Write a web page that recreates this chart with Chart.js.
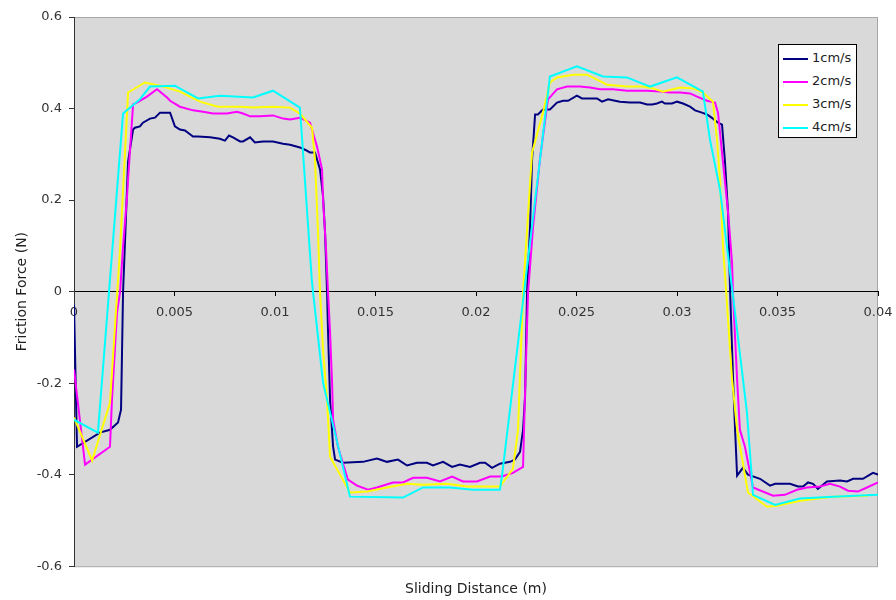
<!DOCTYPE html>
<html>
<head>
<meta charset="utf-8">
<script src="https://cdn.jsdelivr.net/npm/chart.js@4.4.1/dist/chart.umd.min.js"></script>
<style>
  html, body { margin: 0; padding: 0; background: #fff; }
  #wrap { position: relative; width: 896px; height: 600px; }
  #legend { position: absolute; left: 778px; top: 44px; width: 77px; height: 92px;
            border: 1px solid #000; background: #fff; font: 13px 'DejaVu Sans', sans-serif; color: #222; }
  #legend .item { position: absolute; left: 4px; height: 16px; line-height: 16px; white-space: nowrap; }
  #legend .sw { display: inline-block; width: 25px; height: 2px; vertical-align: middle; margin-right: 4px; }
</style>
</head>
<body>
<div id="wrap">
  <canvas id="chart" width="896" height="600"></canvas>
  <div id="legend"></div>
</div>
<script>
// ===== Datos =====
const seriesNames = ['1cm/s', '2cm/s', '3cm/s', '4cm/s'];
const seriesColors = ['#000080', '#ff00ff', '#ffff00', '#00ffff'];

const x1 = [0,0.00015,0.00129,0.00179,0.00219,0.00234,0.00244,0.00269,0.00294,0.00303,0.00328,0.00343,0.00378,0.00403,0.00428,0.00463,0.00478,0.00502,0.00527,0.00552,0.00592,0.00617,0.00677,0.00726,0.00751,0.00771,0.00791,0.00826,0.00841,0.00876,0.009,0.0094,0.0099,0.0104,0.01075,0.01124,0.01149,0.01174,0.01199,0.01224,0.01239,0.01249,0.01259,0.01264,0.01274,0.01289,0.01299,0.01338,0.01438,0.01507,0.01522,0.01557,0.01612,0.01657,0.01706,0.01756,0.01786,0.01836,0.01881,0.0192,0.0197,0.0202,0.02045,0.0208,0.02119,0.02169,0.02194,0.02219,0.02234,0.02244,0.02254,0.02269,0.02279,0.02294,0.02308,0.02333,0.02368,0.02403,0.02433,0.02458,0.02502,0.02527,0.02602,0.02627,0.02657,0.02692,0.02716,0.02766,0.02816,0.02851,0.02876,0.029,0.02925,0.0294,0.02975,0.03,0.0303,0.03065,0.0309,0.03124,0.03149,0.03179,0.03204,0.03224,0.03239,0.03254,0.03264,0.03279,0.03289,0.03299,0.03328,0.03353,0.03413,0.03463,0.03488,0.03562,0.03602,0.03627,0.03652,0.03677,0.03701,0.03726,0.03746,0.03811,0.03846,0.03876,0.03925,0.0396,0.03975,0.04];
const y1 = [-0.028,-0.339,-0.308,-0.302,-0.286,-0.258,-0.002,0.284,0.354,0.358,0.361,0.369,0.378,0.380,0.391,0.391,0.391,0.361,0.354,0.352,0.339,0.339,0.337,0.334,0.330,0.341,0.337,0.328,0.328,0.337,0.326,0.328,0.328,0.323,0.321,0.315,0.310,0.304,0.304,0.267,0.208,0.129,-0.002,-0.090,-0.236,-0.339,-0.367,-0.374,-0.372,-0.365,-0.367,-0.372,-0.367,-0.380,-0.374,-0.374,-0.380,-0.372,-0.383,-0.378,-0.383,-0.374,-0.374,-0.385,-0.376,-0.372,-0.367,-0.350,-0.302,-0.230,-0.002,0.142,0.289,0.387,0.387,0.398,0.398,0.413,0.417,0.417,0.428,0.422,0.422,0.415,0.420,0.417,0.415,0.413,0.413,0.409,0.409,0.411,0.415,0.411,0.411,0.415,0.411,0.404,0.396,0.391,0.387,0.378,0.369,0.365,0.282,0.173,0.004,-0.192,-0.302,-0.402,-0.385,-0.400,-0.409,-0.424,-0.420,-0.420,-0.426,-0.426,-0.417,-0.420,-0.431,-0.422,-0.415,-0.413,-0.415,-0.409,-0.409,-0.400,-0.396,-0.400];

const x2 = [0,0.00055,0.00179,0.00189,0.00214,0.00229,0.00244,0.00264,0.00269,0.00294,0.00313,0.00363,0.00413,0.00463,0.00478,0.00527,0.00592,0.00642,0.00692,0.00761,0.00811,0.00841,0.00876,0.00925,0.0099,0.0104,0.01075,0.01124,0.01174,0.01209,0.01234,0.01239,0.01254,0.01264,0.01274,0.01284,0.01289,0.01313,0.01363,0.01408,0.01463,0.01507,0.01587,0.01637,0.01687,0.01756,0.01821,0.01881,0.01935,0.02005,0.0207,0.02129,0.02184,0.02234,0.02244,0.02259,0.02284,0.02318,0.02358,0.02403,0.02453,0.02517,0.02567,0.02617,0.02682,0.02751,0.02851,0.02915,0.02965,0.03015,0.03065,0.031,0.03149,0.03189,0.03204,0.03229,0.03254,0.03274,0.03279,0.03299,0.03313,0.03338,0.03378,0.03478,0.03537,0.03597,0.03647,0.03711,0.03761,0.03811,0.03851,0.039,0.03945,0.04];
const y2 = [-0.170,-0.378,-0.339,-0.236,-0.046,-0.002,0.098,0.208,0.245,0.409,0.413,0.426,0.442,0.424,0.417,0.404,0.396,0.393,0.389,0.389,0.393,0.389,0.383,0.383,0.385,0.378,0.376,0.380,0.369,0.317,0.267,0.201,0.092,-0.002,-0.090,-0.199,-0.280,-0.339,-0.411,-0.424,-0.433,-0.428,-0.417,-0.417,-0.407,-0.407,-0.415,-0.404,-0.415,-0.415,-0.404,-0.404,-0.396,-0.383,-0.221,-0.002,0.142,0.289,0.420,0.442,0.448,0.448,0.446,0.442,0.442,0.439,0.439,0.437,0.435,0.435,0.433,0.426,0.417,0.413,0.391,0.282,0.173,0.063,-0.011,-0.192,-0.302,-0.339,-0.428,-0.446,-0.444,-0.433,-0.428,-0.426,-0.420,-0.426,-0.435,-0.437,-0.428,-0.417];

const x3 = [0,0.0009,0.00179,0.00229,0.00269,0.00353,0.00428,0.00527,0.00627,0.00716,0.00826,0.00891,0.0099,0.01075,0.01124,0.01184,0.01199,0.01214,0.01224,0.01239,0.01259,0.01274,0.01373,0.01458,0.01557,0.01657,0.01736,0.01856,0.01955,0.0202,0.02119,0.02184,0.02209,0.02234,0.02279,0.02333,0.02368,0.02403,0.02483,0.02552,0.02602,0.02652,0.02751,0.02831,0.02881,0.0293,0.03015,0.0308,0.03129,0.03179,0.03199,0.03214,0.03229,0.03244,0.03274,0.03299,0.03353,0.03448,0.03498,0.03612,0.03776,0.0395];
const y3 = [-0.275,-0.369,-0.243,0.092,0.435,0.457,0.450,0.437,0.415,0.404,0.404,0.402,0.404,0.402,0.389,0.358,0.289,0.129,-0.002,-0.127,-0.236,-0.361,-0.439,-0.437,-0.428,-0.420,-0.422,-0.420,-0.426,-0.426,-0.426,-0.387,-0.302,-0.002,0.304,0.391,0.457,0.468,0.474,0.474,0.463,0.452,0.448,0.448,0.444,0.437,0.446,0.444,0.435,0.415,0.332,0.245,0.098,0.004,-0.192,-0.302,-0.439,-0.470,-0.468,-0.457,-0.448,-0.446];

const x4 = [0,0.00119,0.00244,0.00328,0.00378,0.00502,0.00617,0.00726,0.00891,0.0099,0.01124,0.01184,0.01239,0.01373,0.01637,0.01736,0.01871,0.01985,0.02119,0.02129,0.02368,0.02502,0.02632,0.02751,0.02866,0.03,0.03129,0.03164,0.03214,0.03279,0.03348,0.03373,0.03378,0.03488,0.03612,0.03776,0.04];
const y4 = [-0.280,-0.308,0.389,0.420,0.448,0.450,0.422,0.428,0.424,0.439,0.402,0.020,-0.199,-0.448,-0.450,-0.428,-0.428,-0.433,-0.433,-0.404,0.470,0.492,0.470,0.468,0.448,0.468,0.437,0.332,0.223,-0.011,-0.264,-0.411,-0.444,-0.466,-0.452,-0.448,-0.444];

const xs = [x1, x2, x3, x4];
const ys = [y1, y2, y3, y4];

// ===== Fondo gris del área de trazado =====
const plotBg = {
  id: 'plotBg',
  beforeDraw(chart) {
    const { ctx, chartArea: a } = chart;
    ctx.save();
    ctx.fillStyle = '#d9d9d9';
    ctx.fillRect(a.left, a.top, a.width, a.height);
    ctx.strokeStyle = '#a6a6a6';
    ctx.lineWidth = 1;
    ctx.strokeRect(a.left + 0.5, a.top + 0.5, a.width - 1, a.height);
    ctx.restore();
  }
};

const fmt = v => String(parseFloat(Number(v).toFixed(3)));

Chart.defaults.font.family = "'DejaVu Sans', sans-serif";
Chart.defaults.color = '#333';

const datasets = seriesNames.map((name, i) => ({
  label: name,
  data: xs[i].map((x, k) => ({ x, y: ys[i][k] })),
  borderColor: seriesColors[i],
  backgroundColor: seriesColors[i],
  borderWidth: 2,
  pointRadius: 0,
  tension: 0,
  fill: false,
  order: 3 - i,
  xAxisID: 'x',
  yAxisID: 'y'
}));

new Chart(document.getElementById('chart'), {
  type: 'line',
  data: { datasets },
  options: {
    responsive: false,
    animation: false,
    layout: { padding: { left: 10, right: 18, top: 17, bottom: 2 } },
    plugins: { legend: { display: false }, tooltip: { enabled: false } },
    scales: {
      x: {
        type: 'linear', min: 0, max: 0.04, position: { y: 0 },
        ticks: { stepSize: 0.005, padding: 9, color: '#333', font: { size: 13 }, maxRotation: 0, autoSkip: false, callback: fmt },
        grid: { drawOnChartArea: false, tickLength: 4, color: '#000' },
        border: { color: '#000' },
        afterFit: s => { s.paddingLeft = 0; s.paddingRight = 0; }
      },
      x2: {
        type: 'linear', min: 0, max: 0.04, position: 'bottom',
        ticks: { display: false },
        grid: { display: false, drawTicks: false },
        border: { display: false },
        title: { display: true, text: 'Sliding Distance (m)', color: '#222', font: { size: 14 }, padding: { top: 15, bottom: 0 } },
        afterFit: s => { s.paddingLeft = 0; s.paddingRight = 0; }
      },
      y: {
        type: 'linear', min: -0.6, max: 0.6,
        ticks: { stepSize: 0.2, padding: 7, color: '#333', font: { size: 13 }, callback: fmt },
        grid: { drawOnChartArea: false, tickLength: 5, color: '#333' },
        border: { color: '#333' },
        title: { display: true, text: 'Friction Force (N)', color: '#222', font: { size: 14 }, padding: { top: 4, bottom: 4 } },
        afterFit: s => { s.width = 64; }
      }
    }
  },
  plugins: [plotBg]
});

// ===== Leyenda dentro del área =====
const legend = document.getElementById('legend');
seriesNames.forEach((name, i) => {
  const it = document.createElement('div');
  it.className = 'item';
  it.style.top = (5 + i * 23) + 'px';
  it.innerHTML = `<span class="sw" style="background:${seriesColors[i]}"></span>${name}`;
  legend.appendChild(it);
});
</script>
</body>
</html>
